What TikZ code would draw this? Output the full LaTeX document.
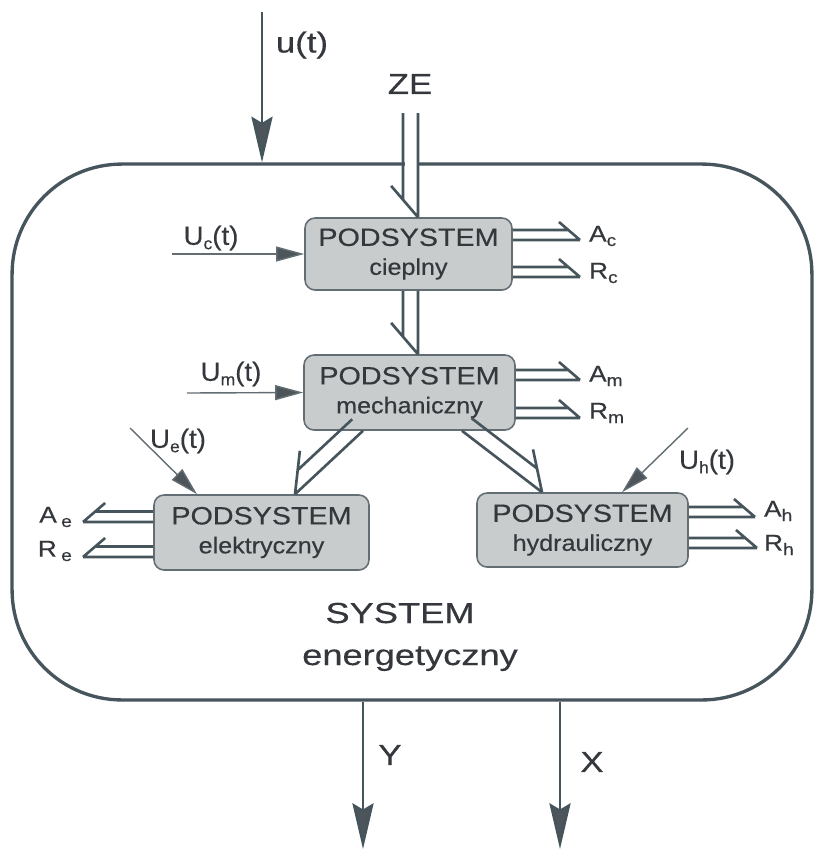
\documentclass[tikz,border=0pt]{standalone}
\usepackage{fontspec}
\setmainfont{Liberation Sans}[FakeBold=0.35]
\usepackage{graphicx}
\usetikzlibrary{arrows.meta,calc}
\definecolor{ln}{RGB}{70,84,92}
\definecolor{tx}{RGB}{52,56,60}
\definecolor{bx}{RGB}{200,204,204}
\definecolor{tipc}{RGB}{78,85,90}
\newcommand\Wx[2]{\scalebox{#1}[1]{#2}}
\newcommand\fsz[1]{\fontsize{#1}{#1}\selectfont}
\newcommand\sbs[1]{\raisebox{-2.5pt}{\fsz{9.5}#1}}
\tikzset{
  sysbox/.style={draw=ln, line width=1.9pt, rounded corners=2.2cm, minimum width=16cm, minimum height=10.72cm, inner sep=0pt},
  subbox/.style={draw=ln!85, line width=0.9pt, fill=bx, rounded corners=0.2cm, inner sep=0pt, align=center, text=tx, font=\fontsize{13}{16.5}\selectfont},
  lab/.style={text=tx, inner sep=1pt},
  mainarrow/.style={draw=ln, line width=1.6pt, -{Stealth[length=26pt,width=12pt,inset=3.5pt,fill=tipc]}},
  inarrow/.style={draw=ln!85, line width=0.8pt, -{Triangle[length=16pt,width=8.5pt,fill=tipc]}},
  dbl/.style 2 args={draw=ln, line width=1.5pt, to path={
    (\tikztostart) -- (\tikztotarget)
    ($(\tikztostart)!#2!#1:(\tikztotarget)$) -- ($(\tikztotarget)!1.17*#2!(\tikztostart)!#2!#1:(\tikztotarget)$)
    ($(\tikztotarget)!2.1*#2!(\tikztostart)!1.8*#2!#1:(\tikztotarget)$) -- (\tikztotarget)
  }},
}
\begin{document}
\begin{tikzpicture}[x=0.02cm,y=-0.02cm]
\fill[white] (0,0) rectangle (815,850);
\useasboundingbox (0,0) rectangle (815,850);

% outer system
\node[sysbox] (sys) at (412,432) {};

% subsystems
\node[subbox, minimum width=4.14cm, minimum height=1.44cm] (C) at (408.5,254)
  {\Wx{1.15}{\fsz{14.2}PODSYSTEM}\\\Wx{1.1}{cieplny}};
\node[subbox, minimum width=4.22cm, minimum height=1.5cm] (M) at (409.5,392.5)
  {\Wx{1.15}{\fsz{14.2}PODSYSTEM}\\\Wx{1.1}{mechaniczny}};
\node[subbox, minimum width=4.3cm, minimum height=1.5cm] (E) at (261.5,532.5)
  {\Wx{1.15}{\fsz{14.2}PODSYSTEM}\\\Wx{1.1}{elektryczny}};
\node[subbox, minimum width=4.22cm, minimum height=1.48cm] (H) at (582.5,530)
  {\Wx{1.15}{\fsz{14.2}PODSYSTEM}\\\Wx{1.1}{hydrauliczny}};

% system labels
\node[lab, anchor=base] (s1) at (400,623) {\Wx{1.25}{\fsz{16.5}SYSTEM}};
\node[lab, anchor=base] (s2) at (410,665) {\Wx{1.25}{\fsz{16.5}energetyczny}};

% u(t)
\coordinate (utop) at (262,12);
\draw[mainarrow] (utop) -- (utop |- sys.north);
\node[lab] (ut) at (302,45) {\Wx{1.2}{\fsz{16.5}u(t)}};

% ZE
\node[lab] (ze) at (410,84) {\Wx{1.2}{\fsz{16.5}ZE}};
\coordinate (zetop) at (418,113);
\fill[white] (404.5,158) rectangle (416.5,170);
\draw[dbl={-90}{8.5pt}] (zetop) to ([xshift=0.19cm]C.north);
\draw[dbl={-90}{8.5pt}] ([xshift=0.19cm]C.south) to ([xshift=0.17cm]M.north);
\draw[dbl={-90}{9pt}] ([xshift=-0.93cm]M.south) to ([xshift=0.67cm]E.north);
\draw[dbl={90}{9pt}] ([xshift=1.05cm]M.south) to ([xshift=-0.81cm]H.north);

% outputs
\coordinate (Ac) at (580,240);
\coordinate (Rc) at (580,277);
\coordinate (Am) at (580,380);
\coordinate (Rm) at (580,418);
\coordinate (Ah) at (755,517);
\coordinate (Rh) at (757,548);
\coordinate (Ae) at (83,522);
\coordinate (Re) at (83,557);
\draw[dbl={90}{5.7pt}] (C.east |- Ac) to (Ac);
\draw[dbl={90}{5.7pt}] (C.east |- Rc) to (Rc);
\draw[dbl={90}{5.7pt}] (M.east |- Am) to (Am);
\draw[dbl={90}{5.7pt}] (M.east |- Rm) to (Rm);
\draw[dbl={90}{5.7pt}] (H.east |- Ah) to (Ah);
\draw[dbl={90}{5.7pt}] (H.east |- Rh) to (Rh);
\draw[dbl={-90}{6pt}] (E.west |- Ae) to (Ae);
\draw[dbl={-90}{6pt}] (E.west |- Re) to (Re);

\node[lab, anchor=west] (lAc) at (587,236) {\Wx{1.15}{\fsz{13}A\sbs{c}}};
\node[lab, anchor=west] (lRc) at (587,273) {\Wx{1.15}{\fsz{13}R\sbs{c}}};
\node[lab, anchor=west] (lAm) at (587,376) {\Wx{1.15}{\fsz{13}A\sbs{m}}};
\node[lab, anchor=west] (lRm) at (587,413) {\Wx{1.15}{\fsz{13}R\sbs{m}}};
\node[lab, anchor=west] (lAh) at (762,511) {\Wx{1.15}{\fsz{13}A\sbs{h}}};
\node[lab, anchor=west] (lRh) at (762,545) {\Wx{1.15}{\fsz{13}R\sbs{h}}};
\node[lab, anchor=east] (lAe) at (74,517) {\Wx{1.15}{\fsz{13}A\,\sbs{e}}};
\node[lab, anchor=east] (lRe) at (74,551) {\Wx{1.15}{\fsz{13}R\,\sbs{e}}};

% inputs
\coordinate (uc) at (172,254);
\coordinate (um) at (187,393);
\coordinate (ue) at (130,428);
\coordinate (uh) at (688,428);
\draw[inarrow] (uc) -- (C.west);
\draw[inarrow] (um) -- (M.west);
\draw[inarrow] (ue) -- ([xshift=-1.29cm]E.north);
\draw[inarrow] (uh) -- ([xshift=0.79cm]H.north);
\node[lab] (luc) at (211,238) {\Wx{1.05}{\fsz{15}U\sbs{c}(t)}};
\node[lab] (lum) at (231,374) {\Wx{1.05}{\fsz{15}U\sbs{m}(t)}};
\node[lab] (lue) at (178,441) {\Wx{1.05}{\fsz{15}U\sbs{e}(t)}};
\node[lab] (luh) at (707,462) {\Wx{1.05}{\fsz{15}U\sbs{h}(t)}};

% outputs Y, X
\coordinate (yend) at (363,849);
\coordinate (xend) at (560,849);
\draw[mainarrow] (yend |- sys.south) -- (yend);
\draw[mainarrow] (xend |- sys.south) -- (xend);
\node[lab] (ly) at (390,755) {\Wx{1.2}{\fsz{16.5}Y}};
\node[lab] (lx) at (592,762) {\Wx{1.2}{\fsz{16.5}X}};
\end{tikzpicture}
\end{document}
